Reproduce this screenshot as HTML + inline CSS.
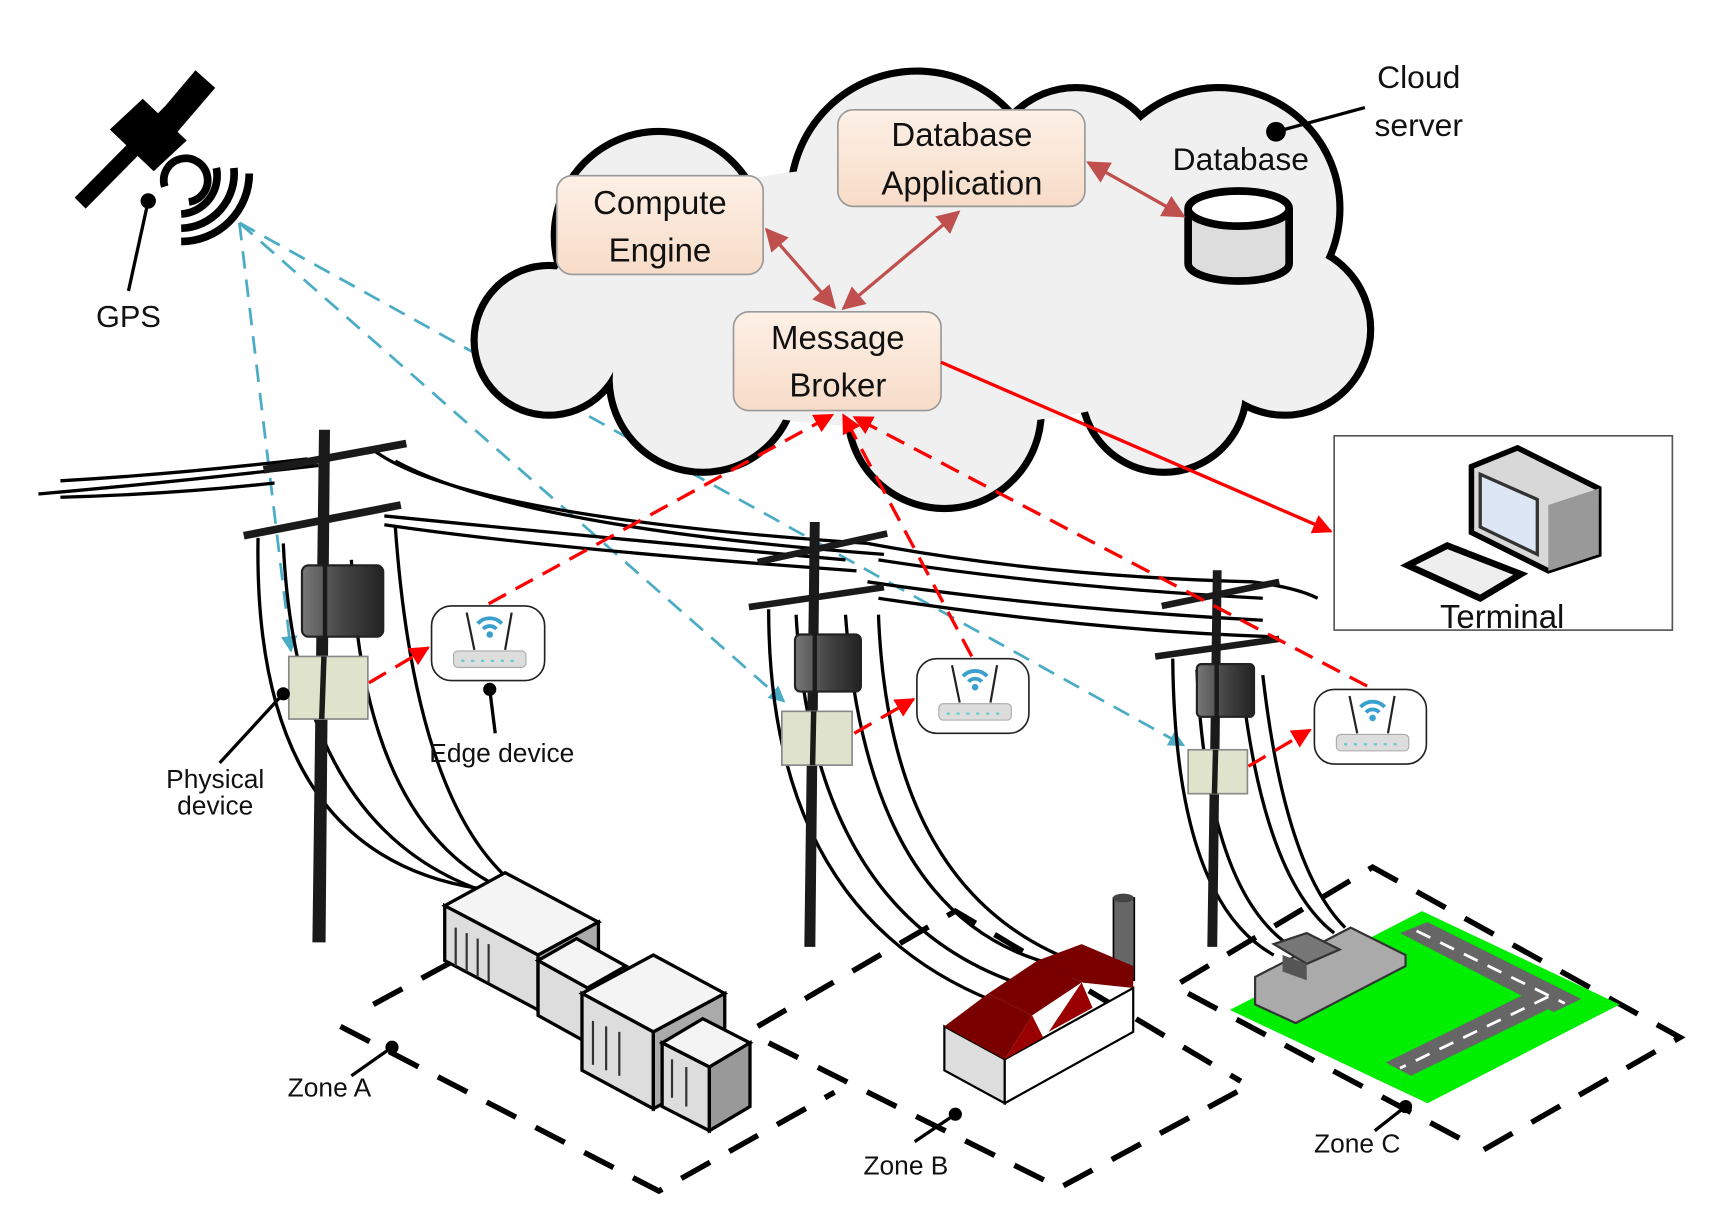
<!DOCTYPE html>
<html><head><meta charset="utf-8"><style>
html,body{margin:0;padding:0;background:#fff}
svg{display:block}
text{font-family:"Liberation Sans",sans-serif;fill:#111}
</style></head><body>
<svg width="1713" height="1224" viewBox="0 0 1560 1115" preserveAspectRatio="none" xmlns="http://www.w3.org/2000/svg">
<defs>
<marker id="ab" viewBox="0 0 10 10" refX="9" refY="5" markerWidth="7" markerHeight="7" orient="auto-start-reverse"><path d="M0,0L10,5L0,10z" fill="#c0504d"/></marker>
<marker id="ar" viewBox="0 0 10 10" refX="9" refY="5" markerWidth="6" markerHeight="6" orient="auto"><path d="M0,0L10,5L0,10z" fill="#f00"/></marker>
<marker id="al" viewBox="0 0 10 10" refX="9" refY="5" markerWidth="6" markerHeight="6" orient="auto"><path d="M0,0L10,5L0,10z" fill="#4bacc6"/></marker>
<linearGradient id="bx" x1="0" y1="0" x2="0" y2="1"><stop offset="0" stop-color="#fdf0e6"/><stop offset="1" stop-color="#f7dcc8"/></linearGradient>
<linearGradient id="tr" x1="0" y1="0" x2="1" y2="0"><stop offset="0" stop-color="#777"/><stop offset="0.5" stop-color="#444"/><stop offset="1" stop-color="#222"/></linearGradient>
<g id="wifi"><path d="M-11,-4 a15,15 0 0 1 22,0" stroke="#3aa0d0" stroke-width="3.5" fill="none"/><path d="M-6,1 a8,8 0 0 1 12,0" stroke="#3aa0d0" stroke-width="3.5" fill="none"/><circle cx="0" cy="6" r="3" fill="#3aa0d0"/></g>
</defs>

<g stroke="#4bacc6" stroke-width="2.5" stroke-dasharray="16,10" fill="none">
<line x1="218" y1="203" x2="1078" y2="679" marker-end="url(#al)"/>
<line x1="218" y1="203" x2="714" y2="639" marker-end="url(#al)"/>
<line x1="218" y1="203" x2="265" y2="593" marker-end="url(#al)"/>
</g>

<g stroke="#000" stroke-width="7" fill="#f0f0f0">
<circle cx="600" cy="215" r="95"/><circle cx="835" cy="180" r="115"/><circle cx="1110" cy="190" r="110"/>
<circle cx="1170" cy="300" r="78"/><circle cx="1060" cy="355" r="75"/><circle cx="860" cy="375" r="88"/>
<circle cx="640" cy="345" r="85"/><circle cx="500" cy="310" r="68"/><circle cx="980" cy="160" r="80"/>
</g>
<g fill="#f0f0f0">
<circle cx="600" cy="215" r="92"/><circle cx="835" cy="180" r="112"/><circle cx="1110" cy="190" r="107"/>
<circle cx="1170" cy="300" r="75"/><circle cx="1060" cy="355" r="72"/><circle cx="860" cy="375" r="85"/>
<circle cx="640" cy="345" r="82"/><circle cx="500" cy="310" r="65"/><circle cx="980" cy="160" r="77"/>
<ellipse cx="830" cy="270" rx="330" ry="120"/>
</g>

<g stroke="#999" stroke-width="1.5" fill="url(#bx)">
<rect x="507" y="160" width="188" height="90" rx="14"/>
<rect x="763" y="100" width="225" height="88" rx="14"/>
<rect x="668" y="284" width="189" height="90" rx="14"/>
</g>
<g font-size="30" text-anchor="middle">
<text x="601" y="195">Compute</text><text x="601" y="238">Engine</text>
<text x="876" y="133">Database</text><text x="876" y="177">Application</text>
<text x="763" y="318">Message</text><text x="763" y="361">Broker</text>
<text x="1130" y="155" font-size="29">Database</text>
<text x="1292" y="80" font-size="29">Cloud</text><text x="1292" y="124" font-size="29">server</text>
</g>
<line x1="1162" y1="120" x2="1243" y2="98" stroke="#000" stroke-width="3"/>
<circle cx="1162" cy="120" r="9" fill="#000"/>

<path d="M1082,190 L1082,240 A46,16 0 0 0 1174,240 L1174,190" fill="#ddd" stroke="#000" stroke-width="7"/>
<ellipse cx="1128" cy="190" rx="46" ry="16" fill="#fff" stroke="#000" stroke-width="7"/>

<g stroke="#c0504d" stroke-width="3" fill="none">
<line x1="698" y1="209" x2="760" y2="280" marker-start="url(#ab)" marker-end="url(#ab)"/>
<line x1="873" y1="193" x2="768" y2="281" marker-start="url(#ab)" marker-end="url(#ab)"/>
<line x1="991" y1="148" x2="1078" y2="197" marker-start="url(#ab)" marker-end="url(#ab)"/>
</g>

<rect x="1215" y="397" width="308" height="177" fill="#fff" stroke="#555" stroke-width="1.5"/>
<polygon points="1340,425 1382,408 1456,445 1456,505 1410,520 1340,485" fill="#d8d8d8" stroke="#000" stroke-width="5"/>
<polygon points="1348,432 1400,455 1400,505 1348,480" fill="#dce6f5" stroke="#333" stroke-width="3"/>
<polygon points="1410,460 1456,445 1456,505 1410,520" fill="#999"/>
<polygon points="1282,515 1318,497 1385,523 1348,545" fill="#eee" stroke="#000" stroke-width="6"/>
<text x="1368" y="572" font-size="30" text-anchor="middle">Terminal</text>
<line x1="857" y1="330" x2="1212" y2="484" stroke="#f00" stroke-width="3" marker-end="url(#ar)"/>

<g>
<polygon points="68,180 150,97 160,107 78,190" fill="#000"/>
<polygon points="118,135 178,64 196,80 136,150" fill="#000"/>
<polygon points="100,118 130,90 170,128 140,156" fill="#000"/>
<path d="M150,170 a20,20 0 1 1 22,14" stroke="#000" stroke-width="7" fill="none"/>
<path d="M165,195 a35,35 0 0 0 32,-42" stroke="#000" stroke-width="7" fill="none"/>
<path d="M165,208 a50,50 0 0 0 48,-55" stroke="#000" stroke-width="7" fill="none"/>
<path d="M165,220 a62,62 0 0 0 62,-62" stroke="#000" stroke-width="7" fill="none"/>
<line x1="135" y1="183" x2="117" y2="265" stroke="#000" stroke-width="3"/>
<circle cx="135" cy="183" r="7" fill="#000"/>
<text x="117" y="298" font-size="28" text-anchor="middle">GPS</text>
</g>

<g stroke="#000" stroke-width="5" stroke-dasharray="30,20" fill="none">
<polyline points="340,915 460,850"/>
<polyline points="310,935 600,1085 760,995"/>
<polyline points="690,935 870,830 1130,985"/>
<polyline points="700,950 965,1082 1135,990"/>
<polyline points="1075,895 1250,790 1530,945 1350,1048"/>
<polyline points="1082,905 1335,1040"/>
</g>

<g stroke="#000" stroke-width="3" fill="none">
<path d="M35,450 Q150,440 290,424"/><path d="M55,438 Q160,432 280,418"/><path d="M55,453 Q160,450 250,440"/>
<path d="M340,410 Q420,470 790,495"/><path d="M360,420 Q470,480 805,505"/><path d="M350,470 Q550,490 770,510"/><path d="M350,478 Q500,500 780,520"/>
<path d="M790,495 Q950,525 1140,530 Q1180,535 1200,545"/><path d="M800,510 Q960,535 1150,545"/><path d="M790,530 Q960,555 1150,565"/><path d="M800,545 Q1000,575 1160,580"/>
<path d="M235,490 Q230,780 440,810"/><path d="M258,495 Q270,760 450,815"/><path d="M320,510 Q330,760 470,815"/><path d="M360,480 Q380,760 490,820"/>
<path d="M700,555 Q700,830 905,912"/><path d="M725,560 Q740,840 940,900"/><path d="M770,560 Q790,840 965,880"/><path d="M800,560 Q810,820 990,880"/>
<path d="M1068,600 Q1070,820 1160,870"/><path d="M1090,610 Q1100,830 1190,870"/><path d="M1130,615 Q1150,800 1215,850"/><path d="M1150,615 Q1170,790 1225,845"/>
</g>

<g fill="#1a1a1a" stroke="#1a1a1a">
<polygon points="291,392 300,392 296,858 285,858" />
<line x1="240" y1="428" x2="370" y2="404" stroke-width="7"/><line x1="222" y1="488" x2="365" y2="460" stroke-width="7"/>
<polygon points="738,476 746,476 742,862 733,862"/>
<line x1="690" y1="512" x2="808" y2="486" stroke-width="6"/><line x1="682" y1="553" x2="805" y2="535" stroke-width="6"/>
<polygon points="1105,520 1112,520 1108,862 1100,862"/>
<line x1="1058" y1="552" x2="1165" y2="530" stroke-width="6"/><line x1="1052" y1="598" x2="1165" y2="582" stroke-width="6"/>
</g>
<g fill="url(#tr)" stroke="#222" stroke-width="2">
<rect x="275" y="515" width="74" height="65" rx="6"/>
<rect x="724" y="578" width="60" height="52" rx="5"/>
<rect x="1090" y="605" width="52" height="48" rx="4"/>
</g>
<g stroke="#1a1a1a" stroke-width="4">
<line x1="296" y1="510" x2="296" y2="600"/><line x1="742" y1="575" x2="742" y2="650"/><line x1="1108" y1="600" x2="1108" y2="680"/>
</g>

<g fill="#dfe3cc" stroke="#888" stroke-width="1.5">
<rect x="263" y="598" width="72" height="57"/>
<rect x="712" y="648" width="64" height="49"/>
<rect x="1082" y="683" width="54" height="40"/>
</g>
<g stroke="#1a1a1a" stroke-width="5"><line x1="295" y1="598" x2="293" y2="655"/><line x1="741" y1="648" x2="740" y2="697"/><line x1="1107" y1="683" x2="1106" y2="723"/></g>

<g>
<rect x="393" y="552" width="103" height="68" rx="18" fill="#fff" stroke="#222" stroke-width="1.5"/>
<rect x="835" y="600" width="102" height="68" rx="18" fill="#fff" stroke="#222" stroke-width="1.5"/>
<rect x="1197" y="628" width="102" height="68" rx="18" fill="#fff" stroke="#222" stroke-width="1.5"/>
<g fill="#ddd" stroke="#aaa">
<rect x="413" y="593" width="66" height="15" rx="4"/><rect x="855" y="641" width="66" height="15" rx="4"/><rect x="1217" y="669" width="66" height="15" rx="4"/>
</g>
<g stroke="#222" stroke-width="2">
<line x1="425" y1="558" x2="432" y2="592"/><line x1="466" y1="558" x2="460" y2="592"/>
<line x1="867" y1="606" x2="874" y2="640"/><line x1="908" y1="606" x2="902" y2="640"/>
<line x1="1229" y1="634" x2="1236" y2="668"/><line x1="1270" y1="634" x2="1264" y2="668"/>
</g>
<use href="#wifi" x="446" y="572"/><use href="#wifi" x="888" y="620"/><use href="#wifi" x="1250" y="648"/>
<g stroke="#6cc" stroke-width="2" stroke-dasharray="3,6"><line x1="420" y1="602" x2="472" y2="602"/><line x1="862" y1="650" x2="914" y2="650"/><line x1="1224" y1="678" x2="1276" y2="678"/></g>
</g>

<g stroke="#f00" stroke-width="3" stroke-dasharray="18,10" fill="none">
<line x1="445" y1="550" x2="758" y2="378" marker-end="url(#ar)"/>
<line x1="885" y1="598" x2="768" y2="378" marker-end="url(#ar)"/>
<line x1="1245" y1="625" x2="778" y2="380" marker-end="url(#ar)"/>
<line x1="336" y1="622" x2="390" y2="590" marker-end="url(#ar)"/>
<line x1="778" y1="668" x2="832" y2="637" marker-end="url(#ar)"/>
<line x1="1137" y1="698" x2="1193" y2="665" marker-end="url(#ar)"/>
</g>

<g stroke="#000" stroke-width="3"><line x1="446" y1="628" x2="451" y2="668"/><line x1="258" y1="632" x2="200" y2="695"/>
<line x1="357" y1="954" x2="320" y2="980"/><line x1="870" y1="1015" x2="833" y2="1040"/><line x1="1280" y1="1008" x2="1252" y2="1030"/></g>
<g fill="#000"><circle cx="446" cy="628" r="6"/><circle cx="258" cy="632" r="6"/><circle cx="357" cy="954" r="6"/><circle cx="870" cy="1015" r="6"/><circle cx="1280" cy="1008" r="6"/></g>
<g font-size="24" text-anchor="middle">
<text x="457" y="694">Edge device</text>
<text x="196" y="718">Physical</text><text x="196" y="742">device</text>
<text x="300" y="999">Zone A</text><text x="825" y="1070">Zone B</text><text x="1236" y="1050">Zone C</text>
</g>

<g stroke="#000" stroke-width="3">
<polygon points="405,825 460,795 545,840 490,870" fill="#f4f4f4"/>
<polygon points="405,825 490,870 490,920 405,875" fill="#ddd"/>
<polygon points="490,870 545,840 545,890 490,920" fill="#aaa"/>
<polygon points="490,875 525,855 570,880 535,900" fill="#f4f4f4"/>
<polygon points="490,875 535,900 535,950 490,925" fill="#ddd"/>
<polygon points="530,905 595,870 660,905 595,940" fill="#f4f4f4"/>
<polygon points="530,905 595,940 595,1010 530,975" fill="#ddd"/>
<polygon points="595,940 660,905 660,975 595,1010" fill="#aaa"/>
<polygon points="603,950 640,928 683,950 646,972" fill="#f4f4f4"/>
<polygon points="603,950 646,972 646,1030 603,1008" fill="#ddd"/>
<polygon points="646,972 683,950 683,1008 646,1030" fill="#999"/>
</g>
<g stroke="#333" stroke-width="2">
<line x1="415" y1="845" x2="415" y2="880"/><line x1="425" y1="850" x2="425" y2="885"/><line x1="435" y1="855" x2="435" y2="890"/><line x1="445" y1="860" x2="445" y2="895"/>
<line x1="540" y1="930" x2="540" y2="970"/><line x1="552" y1="935" x2="552" y2="975"/><line x1="564" y1="940" x2="564" y2="980"/>
<line x1="612" y1="965" x2="612" y2="1000"/><line x1="625" y1="972" x2="625" y2="1008"/>
</g>

<rect x="1014" y="818" width="19" height="75" fill="#666" stroke="#000" stroke-width="1.5"/>
<ellipse cx="1023" cy="818" rx="9.5" ry="4" fill="#444"/>
<polygon points="860,935 915,965 915,1005 860,975" fill="#ddd" stroke="#000" stroke-width="2"/>
<polygon points="915,965 1032,900 1032,940 915,1005" fill="#fff" stroke="#000" stroke-width="2"/>
<polygon points="860,935 900,905 940,925 915,965" fill="#7a0000"/>
<polygon points="900,905 945,875 985,895 940,925" fill="#7a0000"/>
<polygon points="945,875 985,860 1032,880 1032,900 985,895" fill="#7a0000"/>
<polygon points="915,965 940,925 950,945" fill="#9a0000"/>
<polygon points="955,940 985,895 995,918" fill="#9a0000"/>

<polygon points="1120,920 1295,830 1475,915 1300,1005" fill="#00ee00"/>
<polygon points="1275,850 1300,840 1440,910 1415,922" fill="#666"/>
<polygon points="1400,900 1425,912 1285,980 1262,968" fill="#666"/>
<g stroke="#fff" stroke-width="2.5" stroke-dasharray="14,10"><line x1="1290" y1="848" x2="1425" y2="914"/><line x1="1410" y1="908" x2="1275" y2="973"/></g>
<polygon points="1143,890 1230,845 1280,870 1280,880 1180,932 1143,915" fill="#aaa" stroke="#333" stroke-width="2"/>
<polygon points="1160,860 1190,850 1220,865 1190,878" fill="#777" stroke="#333" stroke-width="2"/>
<polygon points="1168,870 1190,878 1190,893 1168,885" fill="#555"/>
</svg>
</body></html>
